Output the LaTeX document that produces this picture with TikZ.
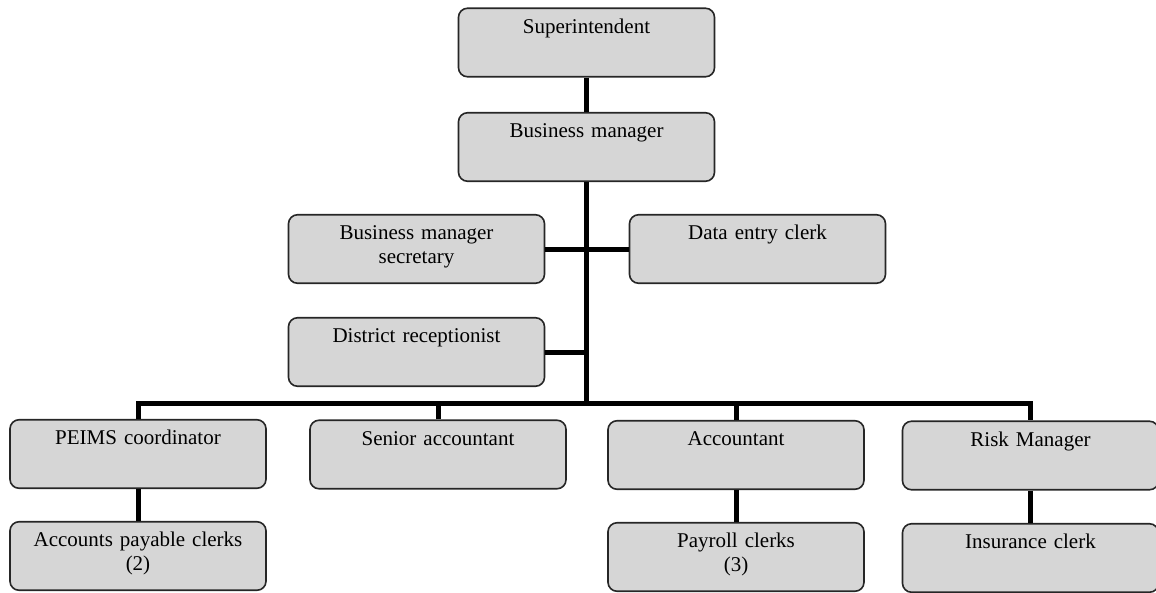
\documentclass[tikz,border=0pt]{standalone}
\usepackage{fontspec}
\setmainfont{Liberation Serif}
\begin{document}
\begin{tikzpicture}[x=1pt, y=-1pt,
  orgbox/.style={draw=black!85, line width=1.6pt, fill=black!16,
    rounded corners=9pt, inner sep=0pt, text width=256pt, align=center,
    text height=25pt, text depth=43.5pt,
    font=\fontsize{21}{23.5}\selectfont},
  conn/.style={draw=black, line width=5pt}]
  \useasboundingbox (0,0) rectangle (1156,592);

  % management column
  \node[orgbox] (sup)  at (586.5, 42.5) {Superintendent};
  \node[orgbox] (bm)   at (586.5, 147)  {Business manager};
  \node[orgbox] (bms)  at (416.5, 249)  {Business manager\\secretary};
  \node[orgbox] (dec)  at (757.5, 249)  {Data entry clerk};
  \node[orgbox] (dr)   at (416.5, 352)  {District receptionist};

  % departments
  \node[orgbox] (peims) at (138, 454)    {PEIMS coordinator};
  \node[orgbox] (sa)    at (438, 454.5)  {Senior accountant};
  \node[orgbox] (acc)   at (736, 455)    {Accountant};
  \node[orgbox] (risk)  at (1030.5, 455.5) {Risk Manager};

  % clerks
  \node[orgbox] (apc) at (138, 556)     {Accounts payable clerks\\(2)};
  \node[orgbox] (pay) at (736, 557)     {Payroll clerks\\(3)};
  \node[orgbox] (ins) at (1030.5, 558)  {Insurance clerk};

  % level of the horizontal bar
  \coordinate (bus) at (0, 403);

  % connectors
  \draw[conn] (sup.south) -- (bm.south |- sup.south) -- (bm.north);
  \draw[conn] (bm.south) -- (bm.south |- bus);
  \draw[conn] (bms.east) -- (dec.west);
  \draw[conn] (dr.east) -- (dr.east -| bm.south);
  \draw[conn] (peims.north) -- (peims.north |- bus) -- (risk.north |- bus) -- (risk.north);
  \draw[conn] (sa.north) -- (sa.north |- bus);
  \draw[conn] (acc.north) -- (acc.north |- bus);
  \draw[conn] (peims.south) -- (apc.north);
  \draw[conn] (acc.south) -- (pay.north);
  \draw[conn] (risk.south) -- (ins.north);
\end{tikzpicture}
\end{document}
